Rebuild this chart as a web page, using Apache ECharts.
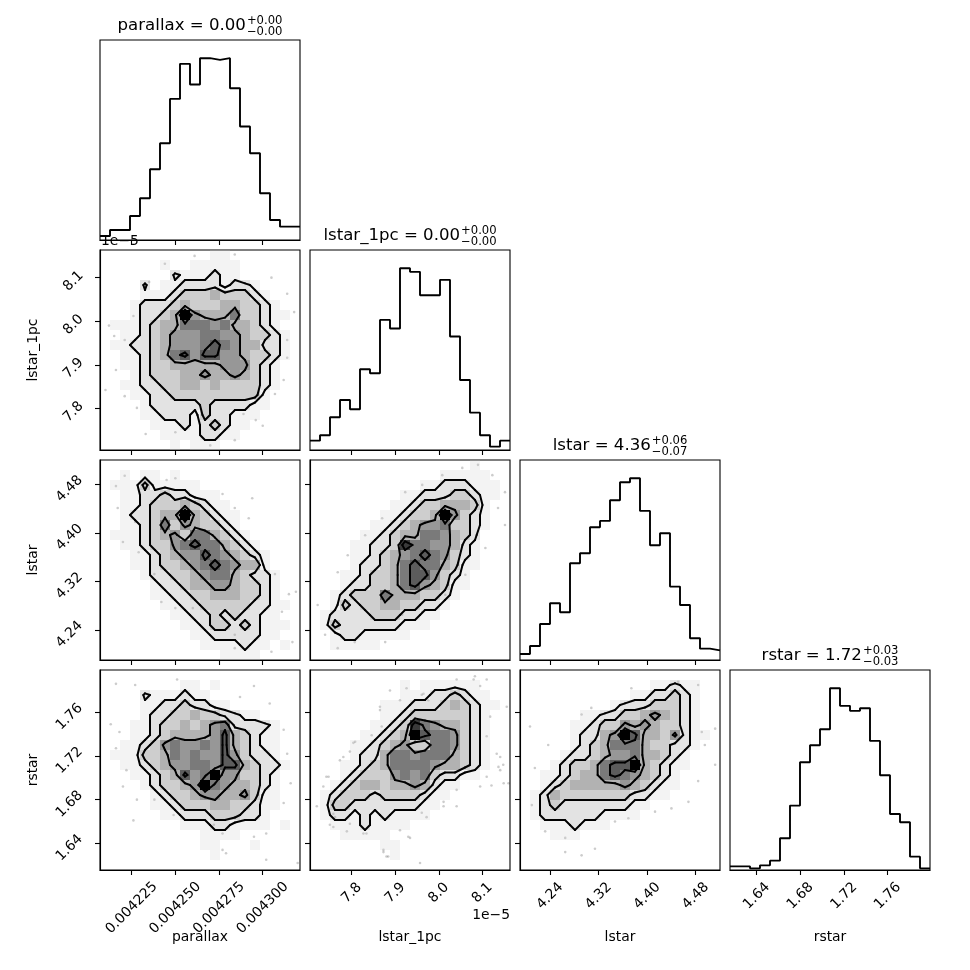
<!DOCTYPE html>
<html><head><meta charset="utf-8">
<script src="https://cdn.jsdelivr.net/npm/echarts@6/dist/echarts.min.js"></script>
<style>html,body{margin:0;padding:0;background:#fff}#c{width:970px;height:970px}</style>
</head><body><div id="c"></div>
<script>
// ---------------- DATA ----------------
const paramNames = ['parallax', 'lstar_1pc', 'lstar', 'rstar'];
const titleMain = ['0.00', '0.00', '4.36', '1.72'];
const titlePlus = ['+0.00', '+0.00', '+0.06', '+0.03'];
const titleMinus = ['\u22120.00', '\u22120.00', '\u22120.07', '\u22120.03'];

const rangeParallax = [0.00420687, 0.00432134];
const rangeLstar1pc = [7.7044, 8.1635];   // in units of 1e-5
const rangeLstar = [4.1905, 4.5200];
const rangeRstar = [1.6156, 1.7987];

const ticksParallax = [0.004225, 0.004250, 0.004275, 0.004300];
const ticksLstar1pc = [7.8, 7.9, 8.0, 8.1];
const ticksLstar = [4.24, 4.32, 4.40, 4.48];
const ticksRstar = [1.64, 1.68, 1.72, 1.76];

const histParallax = [12,30,30,72,125,212,290,423,528,466,545,540,545,455,340,260,140,60,40,40];
const histLstar1pc = [28,44,98,150,122,242,230,390,364,545,534,464,464,510,340,210,112,44,10,28];
const histLstar = [18,42,108,170,143,290,320,398,417,479,533,545,447,344,380,220,165,65,34,29];
const histRstar = [11,11,5,14,28,95,193,323,374,422,545,492,477,485,387,284,168,143,40,5];

// relative count read from each gray class (class 0..9)
const classDensity = [0, 0.22, 0.33, 0.44, 0.55, 0.64, 0.72, 0.80, 0.88, 1.0];
// contour levels, expressed as gray-class boundaries that the contours follow
const contourClassLevels = [1.5, 2.5, 4.5, 6.5];

// 2D histogram gray classes, rows from top (high y) to bottom, columns left to right
const densLstar1pcParallax = [
'00000000000110000000','00000010011111000000','00000002111211000000','00002011222212210000',
'00001112333433321000','00012223433344332100','00012234954446332110','01112344666564432100',
'00112345556655433210','01122345556765442210','00112346757755433210','00112334444455532100',
'00012333445445432100','00112233443433332100','00011223333333331000','00001222223222211000',
'00001122213221110000','00000111212321100000','00000011112211000000','00000001011100000000'];
const densLstarParallax = [
'00000000000000000000','00101101000000000000','01113111110000000000','00112232211100000000',
'00112333432110000000','00122344943211000000','00112363543321000000','01112345366432100000',
'00112335676643210000','00011234557654321000','00011233456765441000','00001223345664322100',
'00000122344554332100','00000112233444332100','00000011223333322110','00000001122323221100',
'00000000112332321110','00000000011222221100','00000000001111211010','00000000000011110000'];
const densLstarLstar1pc = [
'00000000000000001000','00000000000001111100','00000000000112221110','00000000011222332110',
'00000000112334443100','00000001123349532100','00000011234556332100','00000112344665432000',
'00001122386655421000','00001123456765321000','00001223467664311000','00011233467753210000',
'00012233467543110000','00123336444332100000','00132334433221000000','01222233322110000000',
'01322222211100000000','00122111110000000000','00111110000000000000','00000000000000000000'];
const densRstarParallax = [
'00000000000000000000','00000000110100000000','00002111211000000000','00001122322110000000',
'00001223343322110000','00011233434562222100','00011234444574321100','00112356556574321100',
'01113346565575322100','00112345566577432210','00011234756955332100','00001233459654432100',
'00000123345544531100','00000112333443321100','00000011222333221000','00000000111221111010',
'00000000001111000000','00000000001100010000','00000000000100000000','00000000000000000000'];
const densRstarLstar1pc = [
'00000000000000000000','00000000010111111000','00000000011122321100','00000001112223432110',
'00000001123333332100','00000011238654432100','00000112349766532100','00001123453366532100',
'00001224665666432100','00011234666654432100','00012333565632211000','00123443445421100000',
'01233323333211000000','01332222222110000000','01221212111100000000','00111211110000000000',
'00011111000000000000','00000001100000000000','00000000100000000000','00000000000000000000'];
const densRstarLstar = [
'00000000000000000000','00000000000001121100','00000000000112232100','00000000012223332100',
'00000011223345432100','00000112335454332100','00000122459744352110','00000123466643322100',
'00001223455644321000','00012334677943211000','00112344676543210000','00123444445432110000',
'01243333333221100000','01232222222110000000','01222222111100000000','00111211100000000000',
'00011100000000000000','00000000000000000000','00000000000000000000','00000000000000000000'];

// scattered samples outside the contours [x, y]
const ptsLstar1pcParallax = [[0.004244,8.132],[0.004261,8.150],[0.004284,8.153],[0.004314,8.063],[0.004318,8.021],
[0.004314,7.957],[0.004215,7.966],[0.004221,7.957],[0.004216,7.888],[0.004221,7.828],[0.004228,7.801],[0.004233,7.741],
[0.004284,7.727],[0.004289,7.787],[0.004307,7.833],[0.004312,7.865],[0.004314,7.916],[0.004226,8.012],[0.004210,7.842],
[0.004296,7.773],[0.004250,7.745],[0.004270,7.715],[0.004305,8.100],[0.004235,8.090],[0.004300,7.760],[0.004212,7.990]];
const ptsLstarParallax = [[0.004216,4.477],[0.004221,4.494],[0.004227,4.418],[0.004220,4.385],[0.004229,4.368],
[0.004217,4.441],[0.004245,4.487],[0.004250,4.490],[0.004277,4.464],[0.004284,4.441],[0.004292,4.424],[0.004307,4.332],
[0.004315,4.299],[0.004319,4.303],[0.004311,4.270],[0.004317,4.220],[0.004305,4.204],[0.004284,4.210],[0.004284,4.232],
[0.004242,4.286],[0.004250,4.276],[0.004238,4.332],[0.004260,4.276],[0.004294,4.457]];
const ptsLstarLstar1pc = [[7.722,4.281],[7.739,4.232],[7.768,4.210],[7.807,4.220],[7.877,4.220],[7.916,4.265],
[7.962,4.270],[8.015,4.298],[8.061,4.331],[8.107,4.375],[8.136,4.441],[8.152,4.467],[8.123,4.495],[8.090,4.512],
[8.008,4.495],[7.962,4.479],[7.923,4.467],[7.870,4.424],[7.831,4.396],[7.791,4.363],[7.768,4.335],[8.054,4.507],[8.152,4.413]];
const ptsRstarParallax = [[0.004216,1.786],[0.004227,1.785],[0.004213,1.749],[0.004218,1.742],[0.004216,1.727],
[0.004222,1.707],[0.004220,1.692],[0.004228,1.680],[0.004226,1.661],[0.004238,1.680],[0.004249,1.666],[0.004272,1.657],
[0.004277,1.649],[0.004277,1.634],[0.004279,1.631],[0.004295,1.646],[0.004302,1.649],[0.004312,1.677],[0.004316,1.695],
[0.004314,1.722],[0.004312,1.744],[0.004304,1.768],[0.004287,1.774],[0.004295,1.784],[0.004320,1.622],[0.004302,1.625],[0.004251,1.790]];
const ptsRstarLstar1pc = [[7.758,1.667],[7.750,1.657],[7.796,1.658],[7.834,1.649],[7.873,1.634],[7.880,1.628],
[7.957,1.622],[7.934,1.645],[7.911,1.652],[7.972,1.664],[8.011,1.674],[8.041,1.689],[8.110,1.701],[8.141,1.707],
[8.149,1.695],[8.133,1.722],[8.110,1.738],[8.156,1.765],[8.095,1.784],[7.965,1.777],[7.911,1.771],[7.865,1.762],
[7.804,1.732],[7.773,1.716],[7.742,1.701],[8.080,1.790],
[7.888,1.780],[7.926,1.782],[7.961,1.776],[7.976,1.771],[7.865,1.765],[7.869,1.747],[7.846,1.739],[7.808,1.733],
[7.781,1.719],[7.796,1.724],[7.747,1.701],[7.735,1.692],[7.720,1.674],[7.762,1.664],[7.758,1.655],[7.789,1.651],
[7.827,1.649],[7.873,1.632],[7.884,1.628],[7.930,1.646],[7.961,1.668],[8.011,1.678],[8.041,1.674],[8.095,1.692],
[8.121,1.693],[8.137,1.710],[8.148,1.712],[8.160,1.695],[8.141,1.719],[8.118,1.756],[8.110,1.790],[8.083,1.793],[8.041,1.790]];
const ptsRstarLstar = [[4.207,1.747],[4.237,1.730],[4.215,1.709],[4.210,1.675],[4.232,1.651],[4.265,1.645],
[4.292,1.629],[4.314,1.635],[4.347,1.660],[4.369,1.663],[4.413,1.669],[4.440,1.672],[4.468,1.678],[4.484,1.697],
[4.512,1.712],[4.495,1.730],[4.490,1.742],[4.512,1.745],[4.484,1.785],[4.451,1.788],[4.374,1.782],[4.308,1.764],
[4.292,1.758],[4.265,1.632]];

// ---------------- BUILD ----------------
const params = [
  {range: rangeParallax, ticks: ticksParallax, hist: histParallax, fmt: v => v.toFixed(6), xm: 38, ym: 26, yd: 9},
  {range: rangeLstar1pc, ticks: ticksLstar1pc, hist: histLstar1pc, fmt: v => v.toFixed(1), xm: 23, ym: 23, yd: 7},
  {range: rangeLstar, ticks: ticksLstar, hist: histLstar, fmt: v => v.toFixed(2), xm: 26, ym: 26, yd: 9},
  {range: rangeRstar, ticks: ticksRstar, hist: histRstar, fmt: v => v.toFixed(2), xm: 26, ym: 26, yd: 9}
];
const dens = {'10': densLstar1pcParallax, '20': densLstarParallax, '21': densLstarLstar1pc,
              '30': densRstarParallax, '31': densRstarLstar1pc, '32': densRstarLstar};
const pts = {'10': ptsLstar1pcParallax, '20': ptsLstarParallax, '21': ptsLstarLstar1pc,
             '30': ptsRstarParallax, '31': ptsRstarLstar1pc, '32': ptsRstarLstar};
const FONT = '"DejaVu Sans", "Liberation Sans", sans-serif';

function parseGrid(rows) { return rows.map(s => s.padEnd(20, '0').split('').map(ch => classDensity[Number(ch)])); }
function classToDensity(L) {
  const lo = Math.floor(L), hi = Math.ceil(L), f = L - lo;
  return classDensity[lo] * (1 - f) + classDensity[hi] * f;
}

function contourSegs(G, lev) {
  const ny = G.length, nx = G[0].length;
  const val = (i, j) => (i < 0 || j < 0 || i >= nx || j >= ny) ? 0 : G[j][i];
  const segs = [];
  for (let j = -1; j < ny; j++) for (let i = -1; i < nx; i++) {
    const a = val(i, j), b = val(i + 1, j), c = val(i + 1, j + 1), d = val(i, j + 1);
    const A = a > lev, B = b > lev, C = c > lev, D = d > lev;
    const idx = (A ? 8 : 0) | (B ? 4 : 0) | (C ? 2 : 0) | (D ? 1 : 0);
    if (idx === 0 || idx === 15) continue;
    const T = A !== B ? [i + (lev - a) / (b - a), j] : null;
    const R = B !== C ? [i + 1, j + (lev - b) / (c - b)] : null;
    const Bo = C !== D ? [i + (lev - d) / (c - d), j + 1] : null;
    const L = D !== A ? [i, j + (lev - a) / (d - a)] : null;
    if (idx === 10 || idx === 5) {
      const center = (a + b + c + d) / 4 > lev;
      if (center === A) { segs.push([T, R], [Bo, L]); } else { segs.push([L, T], [R, Bo]); }
    } else {
      const p = [T, R, Bo, L].filter(q => q);
      segs.push([p[0], p[1]]);
    }
  }
  return segs;
}

const grids = [], xAxes = [], yAxes = [], series = [];
let gi = 0;
for (let r = 0; r < 4; r++) for (let c = 0; c <= r; c++) {
  grids.push({left: 100 + 210 * c, top: 40 + 210 * r, width: 200, height: 200, show: true,
    borderColor: '#000', borderWidth: 1.1, backgroundColor: 'transparent', outerBoundsMode: 'none', containLabel: false});
  const px = params[c];
  xAxes.push({type: 'value', gridIndex: gi, min: px.range[0], max: px.range[1], scale: true,
    axisLine: {show: true, onZero: false, lineStyle: {color: '#000', width: 1.1}},
    axisTick: {show: true, inside: false, length: 5, customValues: px.ticks, lineStyle: {color: '#000', width: 1.1}},
    axisLabel: {show: r === 3, customValues: px.ticks, rotate: 45, align: 'center', verticalAlign: 'middle',
      margin: px.xm, formatter: px.fmt, fontSize: 13.9, color: '#000', fontFamily: FONT},
    splitLine: {show: false}});
  if (r === c) {
    const h = px.hist;
    const mx = Math.max(...h);
    yAxes.push({type: 'value', gridIndex: gi, min: 0, max: mx * 1.1, show: false, splitLine: {show: false}});
    const w = (px.range[1] - px.range[0]) / h.length;
    const line = [];
    for (let k = 0; k < h.length; k++) {
      line.push([px.range[0] + k * w, h[k]]);
      line.push([px.range[0] + (k + 1) * w, h[k]]);
    }
    series.push({type: 'line', xAxisIndex: gi, yAxisIndex: gi, data: line, showSymbol: false, symbol: 'none',
      lineStyle: {color: '#000', width: 1.9}, clip: true, silent: true, z: 3});
  } else {
    const py = params[r];
    yAxes.push({type: 'value', gridIndex: gi, min: py.range[0], max: py.range[1], scale: true,
      axisLine: {show: true, onZero: false, lineStyle: {color: '#000', width: 1.1}},
      axisTick: {show: true, inside: false, length: 5, customValues: py.ticks, lineStyle: {color: '#000', width: 1.1}},
      axisLabel: {show: c === 0, customValues: py.ticks, rotate: 45, align: 'center', verticalAlign: 'middle',
        margin: py.ym, padding: [py.yd * 1.414, py.yd * 1.414, 0, 0], formatter: py.fmt, fontSize: 13.9, color: '#000', fontFamily: FONT},
      splitLine: {show: false}});
    const key = r + '' + c;
    const G = parseGrid(dens[key]);
    const nx = 20, ny = 20;
    const dx = (px.range[1] - px.range[0]) / nx, dy = (py.range[1] - py.range[0]) / ny;
    const gmax = Math.max(...[].concat(...G));
    series.push({type: 'scatter', xAxisIndex: gi, yAxisIndex: gi, data: pts[key], symbolSize: 2.6,
      itemStyle: {color: 'rgba(0,0,0,0.25)'}, silent: true, z: 1, clip: true});
    const cells = [];
    for (let j = 0; j < ny; j++) for (let i = 0; i < nx; i++) {
      if (G[j][i] > 0) cells.push([px.range[0] + i * dx, px.range[0] + (i + 1) * dx,
        py.range[1] - (j + 1) * dy, py.range[1] - j * dy, G[j][i] / gmax]);
    }
    series.push({type: 'custom', xAxisIndex: gi, yAxisIndex: gi, data: cells, silent: true, z: 2, clip: true,
      encode: {x: [0, 1], y: [2, 3]},
      renderItem: (p, api) => {
        const a = api.coord([api.value(0), api.value(3)]);
        const b = api.coord([api.value(1), api.value(2)]);
        const hh = api.value(4), t = 1 - hh, g = Math.round(255 * t);
        const x0 = Math.round(a[0]), y0 = Math.round(a[1]), x1 = Math.round(b[0]), y1 = Math.round(b[1]);
        return {type: 'rect', shape: {x: x0, y: y0, width: x1 - x0, height: y1 - y0},
          style: {fill: 'rgba(' + g + ',' + g + ',' + g + ',' + (1 - t).toFixed(3) + ')'}};
      }});
    const segData = [];
    contourClassLevels.forEach(L => {
      contourSegs(G, classToDensity(L)).forEach(s => {
        segData.push([px.range[0] + (s[0][0] + 0.5) * dx, py.range[1] - (s[0][1] + 0.5) * dy,
                      px.range[0] + (s[1][0] + 0.5) * dx, py.range[1] - (s[1][1] + 0.5) * dy]);
      });
    });
    series.push({type: 'custom', xAxisIndex: gi, yAxisIndex: gi, data: segData, silent: true, z: 4, clip: true,
      encode: {x: [0, 2], y: [1, 3]},
      renderItem: (p, api) => {
        const a = api.coord([api.value(0), api.value(1)]);
        const b = api.coord([api.value(2), api.value(3)]);
        return {type: 'line', shape: {x1: a[0], y1: a[1], x2: b[0], y2: b[1]},
          style: {stroke: '#000', lineWidth: 2, lineCap: 'round'}};
      }});
  }
  gi++;
}

// text graphics
const mctx = document.createElement('canvas').getContext('2d');
function tw(s, size) { mctx.font = size + 'px ' + FONT; return mctx.measureText(s).width; }
const graphic = [];
const TS = 16.6, SS = 11.6;
for (let i = 0; i < 4; i++) {
  const cx = 200 + 210 * i, top = 40 + 210 * i;
  const main = paramNames[i] + ' = ' + titleMain[i];
  const wm = tw(main, TS), ws = Math.max(tw(titlePlus[i], SS), tw(titleMinus[i], SS));
  const x0 = cx - (wm + 1 + ws) / 2;
  graphic.push({type: 'text', x: x0, y: top - 14, style: {text: main, fontSize: TS, fontFamily: FONT, fill: '#000', align: 'left', verticalAlign: 'middle'}});
  graphic.push({type: 'text', x: x0 + wm + 1, y: top - 19.5, style: {text: titlePlus[i], fontSize: SS, fontFamily: FONT, fill: '#000', align: 'left', verticalAlign: 'middle'}});
  graphic.push({type: 'text', x: x0 + wm + 1, y: top - 8.5, style: {text: titleMinus[i], fontSize: SS, fontFamily: FONT, fill: '#000', align: 'left', verticalAlign: 'middle'}});
  graphic.push({type: 'text', x: cx, y: 937, style: {text: paramNames[i], fontSize: 13.9, fontFamily: FONT, fill: '#000', align: 'center', verticalAlign: 'middle'}});
  if (i > 0) {
    graphic.push({type: 'text', x: 33, y: top + 100, rotation: Math.PI / 2,
      style: {text: paramNames[i], fontSize: 13.9, fontFamily: FONT, fill: '#000', align: 'center', verticalAlign: 'middle'}});
  }
}
graphic.push({type: 'text', x: 101, y: 241, style: {text: '1e\u22125', fontSize: 13.9, fontFamily: FONT, fill: '#000', align: 'left', verticalAlign: 'middle'}});
graphic.push({type: 'text', x: 510, y: 915, style: {text: '1e\u22125', fontSize: 13.9, fontFamily: FONT, fill: '#000', align: 'right', verticalAlign: 'middle'}});

const chart = echarts.init(document.getElementById('c'), null, {renderer: 'canvas'});
chart.setOption({animation: false, backgroundColor: '#fff', grid: grids, xAxis: xAxes, yAxis: yAxes, series: series, graphic: graphic});
</script></body></html>
